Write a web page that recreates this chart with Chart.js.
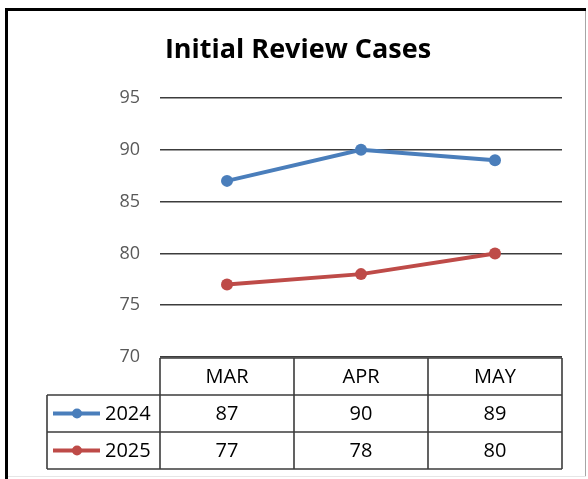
<!DOCTYPE html>
<html>
<head>
<meta charset="utf-8">
<script src="https://cdn.jsdelivr.net/npm/chart.js@4/dist/chart.umd.min.js"></script>
<style>
html,body{margin:0;padding:0;background:#fff;}
#wrap{position:absolute;left:0;top:0;width:588px;height:479px;}
</style>
</head>
<body>
<div id="wrap"><canvas id="c" width="588" height="479"></canvas></div>
<script>
const categories = ['MAR', 'APR', 'MAY'];
const seriesNames = ['2024', '2025'];
const values2024 = [87, 90, 89];
const values2025 = [77, 78, 80];
const yMin = 70, yMax = 95, yStep = 5;
const titleText = 'Initial Review Cases';

const colors = ['#4a7ebb', '#be4b48'];
const seriesValues = [values2024, values2025];
const FONT = "'Open Sans', 'Liberation Sans', sans-serif";

const framePlugin = {
  id: 'frame',
  beforeDraw(chart) {
    const ctx = chart.ctx;
    ctx.save();
    ctx.fillStyle = '#fff';
    ctx.fillRect(0, 0, chart.width, chart.height);
    ctx.fillStyle = '#000';
    ctx.fillRect(5, 8, 3, 471);
    ctx.fillRect(5, 8, 581, 3);
    ctx.fillStyle = '#a6a6a6';
    ctx.fillRect(585, 11, 1, 465);
    ctx.fillStyle = '#e6e6e6';
    ctx.fillRect(8, 476, 578, 1);
    // title
    ctx.fillStyle = '#000';
    ctx.font = "bold 27px " + FONT;
    ctx.textAlign = 'center';
    ctx.textBaseline = 'middle';
    ctx.fillText(titleText, 298, 50);
    ctx.restore();
  }
};

const tablePlugin = {
  id: 'dataTable',
  afterDraw(chart) {
    const ctx = chart.ctx;
    const x = chart.scales.x;
    const area = chart.chartArea;
    const n = categories.length;
    const colW = (area.right - area.left) / n;
    const rowH = 37;
    const top = area.bottom + 1;
    const keyLeft = 47;
    ctx.save();
    ctx.strokeStyle = '#3c3c3c';
    ctx.lineWidth = 1.6;
    ctx.beginPath();
    ctx.moveTo(area.left, top); ctx.lineTo(area.right, top);
    for (let r = 1; r <= seriesNames.length + 1; r++) {
      const yy = top + r * rowH;
      ctx.moveTo(keyLeft, yy); ctx.lineTo(area.right, yy);
    }
    for (let c = 0; c <= n; c++) {
      const xx = area.left + c * colW;
      ctx.moveTo(xx, top); ctx.lineTo(xx, top + (seriesNames.length + 1) * rowH);
    }
    ctx.moveTo(keyLeft, top + rowH); ctx.lineTo(keyLeft, top + (seriesNames.length + 1) * rowH);
    ctx.stroke();

    ctx.fillStyle = '#000';
    ctx.font = "20px " + FONT;
    ctx.textAlign = 'center';
    ctx.textBaseline = 'middle';
    categories.forEach((cat, i) => {
      ctx.fillText(cat, x.getPixelForValue(i), top + rowH / 2 + 1);
    });
    seriesNames.forEach((name, s) => {
      const cy = top + rowH * (s + 1) + rowH / 2 + 1;
      seriesValues[s].forEach((v, i) => {
        ctx.fillText(String(v), x.getPixelForValue(i), cy);
      });
      ctx.strokeStyle = colors[s];
      ctx.lineWidth = 4;
      ctx.beginPath();
      ctx.moveTo(53, cy - 1); ctx.lineTo(100, cy - 1);
      ctx.stroke();
      ctx.fillStyle = colors[s];
      ctx.beginPath();
      ctx.arc(77, cy - 1, 5, 0, Math.PI * 2);
      ctx.fill();
      ctx.fillStyle = '#000';
      ctx.textAlign = 'left';
      ctx.fillText(name, 105, cy);
      ctx.textAlign = 'center';
    });
    ctx.restore();
  }
};

new Chart(document.getElementById('c'), {
  type: 'line',
  data: {
    labels: categories,
    datasets: seriesNames.map((name, s) => ({
      label: name,
      data: seriesValues[s],
      borderColor: colors[s],
      backgroundColor: colors[s],
      borderWidth: 4,
      pointRadius: 6,
      pointHoverRadius: 6,
      pointBorderWidth: 0,
      tension: 0
    }))
  },
  options: {
    responsive: false,
    animation: false,
    events: [],
    layout: { padding: { left: 0, right: 26, top: 98, bottom: 122 } },
    plugins: {
      legend: { display: false },
      tooltip: { enabled: false },
      title: { display: false }
    },
    scales: {
      x: {
        display: false,
        offset: true
      },
      y: {
        min: yMin,
        max: yMax,
        afterFit(scale) { scale.width = 160; },
        ticks: {
          stepSize: yStep,
          color: '#595959',
          padding: 20,
          font: { family: FONT, size: 18 }
        },
        grid: {
          color: '#3c3c3c',
          lineWidth: 1.6,
          drawTicks: false
        },
        border: { display: false }
      }
    }
  },
  plugins: [framePlugin, tablePlugin]
});
</script>
</body>
</html>
